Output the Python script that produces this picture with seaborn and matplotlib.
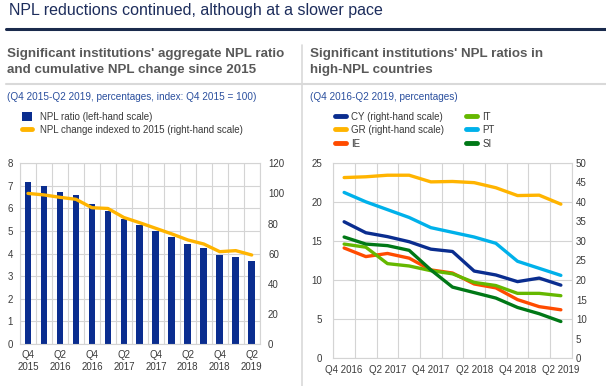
import numpy as np
import matplotlib
matplotlib.use('Agg')
import matplotlib.pyplot as plt
from matplotlib.lines import Line2D
from matplotlib.patches import Patch
import seaborn as sns

# --- Data: left panel (Q4 2015 - Q2 2019) ---
periods_left = ['Q4 2015', 'Q1 2016', 'Q2 2016', 'Q3 2016', 'Q4 2016', 'Q1 2017', 'Q2 2017',
                'Q3 2017', 'Q4 2017', 'Q1 2018', 'Q2 2018', 'Q3 2018', 'Q4 2018', 'Q1 2019', 'Q2 2019']
npl_ratio = [7.19, 7.01, 6.73, 6.61, 6.18, 5.90, 5.54, 5.25, 5.01, 4.72, 4.43, 4.24, 3.94, 3.84, 3.69]
npl_index = [100.0, 99.0, 97.4, 96.1, 90.5, 90.0, 84.0, 80.5, 76.8, 73.1, 69.1, 66.4, 61.3, 62.0, 59.1]

# --- Data: right panel (Q4 2016 - Q2 2019) ---
periods_right = ['Q4 2016', 'Q1 2017', 'Q2 2017', 'Q3 2017', 'Q4 2017', 'Q1 2018',
                 'Q2 2018', 'Q3 2018', 'Q4 2018', 'Q1 2019', 'Q2 2019']
cy = [34.9, 32.1, 31.1, 29.8, 27.9, 27.3, 22.3, 21.3, 19.6, 20.5, 18.7]
gr = [46.2, 46.4, 46.8, 46.8, 45.1, 45.2, 44.9, 43.6, 41.6, 41.7, 39.4]
ie = [14.1, 13.0, 13.4, 12.8, 11.3, 10.9, 9.5, 9.0, 7.5, 6.6, 6.2]
it = [14.6, 14.2, 12.1, 11.8, 11.2, 10.8, 9.7, 9.3, 8.3, 8.3, 8.0]
pt = [21.2, 20.0, 19.0, 18.0, 16.7, 16.1, 15.5, 14.7, 12.4, 11.5, 10.6]
si = [15.5, 14.6, 14.4, 13.8, 11.3, 9.1, 8.4, 7.7, 6.5, 5.7, 4.7]

# --- Colours ---
BLUE = '#0a2d8f'
YELLOW = '#ffb400'
COLORS = {'CY': '#0a2d8f', 'GR': '#ffb400', 'IE': '#ff4b00',
          'IT': '#65b800', 'PT': '#00b1ea', 'SI': '#007816'}
GRID = '#d4d4d4'
TICK = '#3a3a3a'
SUBNOTE = '#2a4f9e'
FS = 7

sns.set_theme(style='white')
plt.rcParams['font.family'] = ['Liberation Sans', 'DejaVu Sans']

fig = plt.figure(figsize=(6.06, 3.86), dpi=100)
W, H = 606, 386


def fx(px):
    return px / W


def fy(py):
    return 1 - py / H


def style_axis(ax, n):
    ax.set_xlim(-0.5, n - 0.5)
    ax.set_xticks(np.arange(-0.5, n, 1), minor=True)
    ax.grid(which='minor', axis='x', color=GRID, lw=0.8)
    ax.grid(which='major', axis='y', color=GRID, lw=0.8)
    ax.grid(which='major', axis='x', visible=False)
    ax.set_axisbelow(True)
    for s in ax.spines.values():
        s.set_color(GRID)
        s.set_linewidth(0.8)
    ax.tick_params(which='both', length=0, labelsize=FS, colors=TICK)


# --- Left panel ---
nl = len(periods_left)
xl = np.arange(nl)
ax1 = fig.add_axes([fx(20), fy(344), fx(259.7 - 20), (344 - 163.3) / H])
sns.barplot(x=xl, y=npl_ratio, ax=ax1, color=BLUE, width=0.42, native_scale=True,
            saturation=1, edgecolor='none')
style_axis(ax1, nl)
ax1.set_ylim(0, 8)
ax1.set_yticks(range(0, 9))
ax1.set_xticks(xl[::2])
ax1.set_xticklabels([p.replace(' ', '\n') for p in periods_left[::2]], linespacing=1.35)
ax1.tick_params(axis='x', pad=4)
ax1.tick_params(axis='y', pad=5)
ax1.set_xlabel('')
ax1.set_ylabel('')

ax1r = ax1.twinx()
sns.lineplot(x=xl, y=npl_index, ax=ax1r, color=YELLOW, lw=2.4)
ax1r.set_ylim(0, 120)
ax1r.set_yticks(range(0, 121, 20))
ax1r.grid(False)
for s in ax1r.spines.values():
    s.set_visible(False)
ax1r.tick_params(length=0, labelsize=FS, colors=TICK, pad=6)
ax1r.set_ylabel('')

# --- Right panel ---
nr = len(periods_right)
xr = np.arange(nr)
ax2 = fig.add_axes([fx(333.3), fy(358.3), fx(571.7 - 333.3), (358.3 - 162.7) / H])
ax2r = ax2.twinx()
for name, vals in [('IE', ie), ('IT', it), ('PT', pt), ('SI', si)]:
    sns.lineplot(x=xr, y=vals, ax=ax2, color=COLORS[name], lw=2.4)
for name, vals in [('CY', cy), ('GR', gr)]:
    sns.lineplot(x=xr, y=vals, ax=ax2r, color=COLORS[name], lw=2.4)
style_axis(ax2, nr)
ax2.set_ylim(0, 25)
ax2.set_yticks(range(0, 26, 5))
ax2.set_xticks(xr[::2])
ax2.set_xticklabels(periods_right[::2])
ax2.tick_params(axis='x', pad=5)
ax2.tick_params(axis='y', pad=8)
ax2r.set_ylim(0, 50)
ax2r.set_yticks(range(0, 51, 5))
ax2r.grid(False)
for s in ax2r.spines.values():
    s.set_visible(False)
ax2r.tick_params(length=0, labelsize=FS, colors=TICK, pad=3)

# --- Header texts and rules ---
fig.text(fx(9), fy(11), 'NPL reductions continued, although at a slower pace',
         fontsize=11.5, color='#1d2d5c', va='center', ha='left')
fig.add_artist(Line2D([fx(6), 1], [fy(28.5)] * 2, transform=fig.transFigure,
                      color='#1a2a4c', lw=2.2))
fig.add_artist(Line2D([fx(302), fx(302)], [fy(45), 0], transform=fig.transFigure,
                      color='#d9d9d9', lw=1.2))
fig.add_artist(Line2D([fx(6), 1], [fy(83.5)] * 2, transform=fig.transFigure,
                      color='#d9d9d9', lw=1.5))

sub_kw = dict(fontsize=9.6, fontweight='bold', color='#595959', va='center',
              ha='left', linespacing=1.35)
fig.text(fx(7), fy(62), "Significant institutions' aggregate NPL ratio\n"
         "and cumulative NPL change since 2015", **sub_kw)
fig.text(fx(310), fy(62), "Significant institutions' NPL ratios in\n"
         "high-NPL countries", **sub_kw)

fig.text(fx(7), fy(97.5), '(Q4 2015-Q2 2019, percentages, index: Q4 2015 = 100)',
         fontsize=7.2, color=SUBNOTE, va='center')
fig.text(fx(310), fy(97.5), '(Q4 2016-Q2 2019, percentages)',
         fontsize=7.2, color=SUBNOTE, va='center')

# --- Legends ---
left_handles = [Patch(facecolor=BLUE, edgecolor='none', label='NPL ratio (left-hand scale)'),
                Line2D([], [], color=YELLOW, lw=3.5,
                       label='NPL change indexed to 2015 (right-hand scale)')]
fig.legend(handles=left_handles, loc='upper left', bbox_to_anchor=(fx(18), fy(108)),
           frameon=False, fontsize=FS, handlelength=1.0, handleheight=1.0,
           handletextpad=0.9, labelspacing=0.35, borderaxespad=0, labelcolor=TICK)

right_labels = ['CY (right-hand scale)', 'GR (right-hand scale)', 'IE', 'IT', 'PT', 'SI']
right_handles = [Line2D([], [], color=COLORS[l.split()[0]], lw=3.5, label=l)
                 for l in right_labels]
fig.legend(handles=right_handles, loc='upper left', bbox_to_anchor=(fx(331), fy(108)),
           frameon=False, fontsize=FS, ncol=2, handlelength=1.1, handleheight=1.0,
           handletextpad=0.6, labelspacing=0.35, columnspacing=2.2, borderaxespad=0,
           labelcolor=TICK)

fig.savefig('out.png', dpi=100)
